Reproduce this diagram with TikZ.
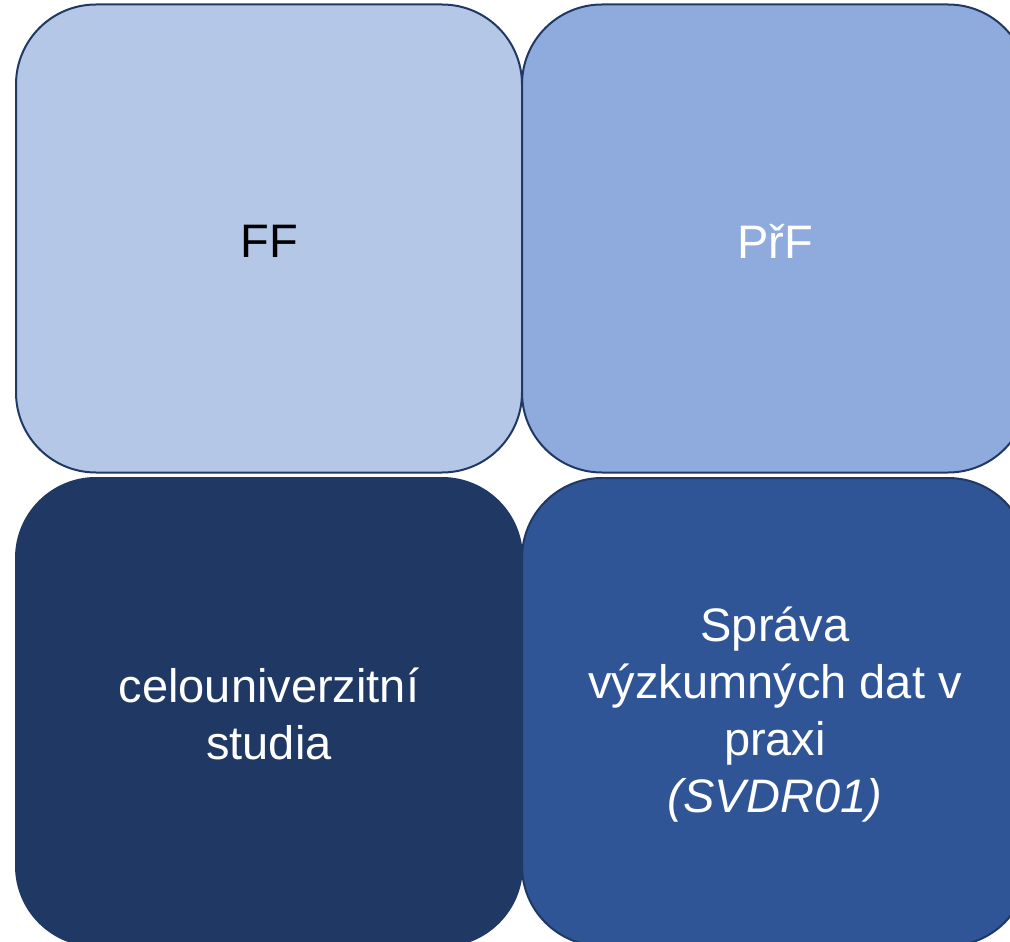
\documentclass[tikz,border=0pt]{standalone}
\usepackage{fontspec}
\setmainfont{Liberation Sans}
\definecolor{cA}{HTML}{B4C7E7}
\definecolor{cB}{HTML}{8FAADC}
\definecolor{cC}{HTML}{203864}
\definecolor{cD}{HTML}{2F5597}
\definecolor{edge}{HTML}{1F3864}
\tikzset{
  tile/.style={draw=edge, line width=2pt, rounded corners=80pt, rectangle,
    minimum width=506pt, minimum height=468pt, inner sep=0pt,
    align=center, font=\fontsize{47}{57}\selectfont},
  lbl/.style={align=center, font=\fontsize{47}{57}\selectfont},
}
\begin{document}
\begin{tikzpicture}[x=1pt,y=-1pt]
\useasboundingbox (0,0) rectangle (1010,942);
\clip (0,0) rectangle (1010,942);
\node[tile, fill=cA] (ff) at (269,238.5) {};
\node[tile, fill=cB] (prf) at (775,238.5) {};
\node[tile, fill=cC] (cel) at (269,712) {};
\node[tile, fill=cD] (svdr) at (775,712) {};
\node[lbl, text=black] (ffl) at ([yshift=-3pt]ff.center) {FF};
\node[lbl, text=white] (prfl) at ([yshift=-3pt]prf.center) {PřF};
\node[lbl, text=white] (cell) at ([yshift=-2pt]cel.center) {celouniverzitní\\studia};
\node[lbl, text=white] (svdrl) at ([yshift=-3pt]svdr.center) {Správa\\výzkumných dat v\\praxi\\\textit{(SVDR01)}};
\end{tikzpicture}
\end{document}
